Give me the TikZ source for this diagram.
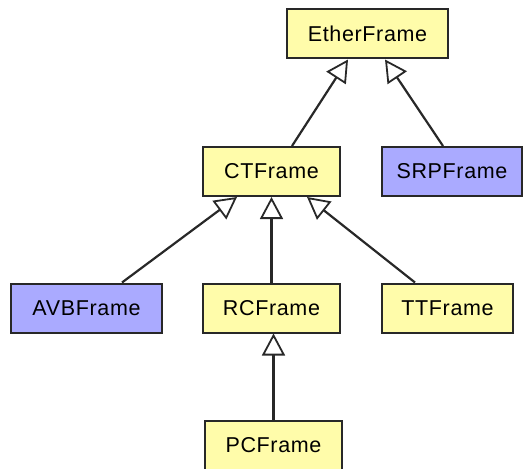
\documentclass[tikz,border=0pt]{standalone}
\usepackage{fontspec}
\setmainfont[LetterSpace=3]{Liberation Sans}
\usetikzlibrary{arrows.meta}
\definecolor{yel}{RGB}{255,252,170}
\definecolor{blu}{RGB}{170,170,255}
\definecolor{edge}{RGB}{40,40,40}
\begin{document}
\begin{tikzpicture}[x=1pt,y=-1pt,
  cls/.style={draw=edge,line width=2pt,minimum height=49pt,inner sep=0pt,font=\fontsize{21.5}{25}\selectfont},
  yc/.style={cls,fill=yel},
  bc/.style={cls,fill=blu},
  inh/.style={draw=edge,line width=2.2pt,-{Triangle[open,length=22pt,width=23pt,fill=white,line width=1.8pt]}}]
\useasboundingbox (0,0) rectangle (526,468);
\node[yc,minimum width=161pt] (ether) at (367.5,34) {EtherFrame};
\node[yc,minimum width=137pt] (ct) at (271.5,171.5) {CTFrame};
\node[bc,minimum width=140pt] (srp) at (452,171.5) {SRPFrame};
\node[bc,minimum width=151pt] (avb) at (86.5,308) {AVBFrame};
\node[yc,minimum width=137pt] (rc) at (271.5,308) {RCFrame};
\node[yc,minimum width=131pt] (tt) at (447.5,308) {TTFrame};
\node[yc,minimum width=137pt] (pc) at (273.5,445) {PCFrame};
\draw[inh] ([xshift=20.5pt]ct.north) -- ([xshift=-19.5pt]ether.south);
\draw[inh] ([xshift=-9pt]srp.north) -- ([xshift=17.5pt]ether.south);
\draw[inh] ([xshift=35.5pt]avb.north) -- ([xshift=-34.5pt]ct.south);
\draw[inh] (rc.north) -- (ct.south);
\draw[inh] ([xshift=-32.5pt]tt.north) -- ([xshift=35.5pt]ct.south);
\draw[inh] (pc.north) -- ([xshift=2pt]rc.south);
\end{tikzpicture}
\end{document}
